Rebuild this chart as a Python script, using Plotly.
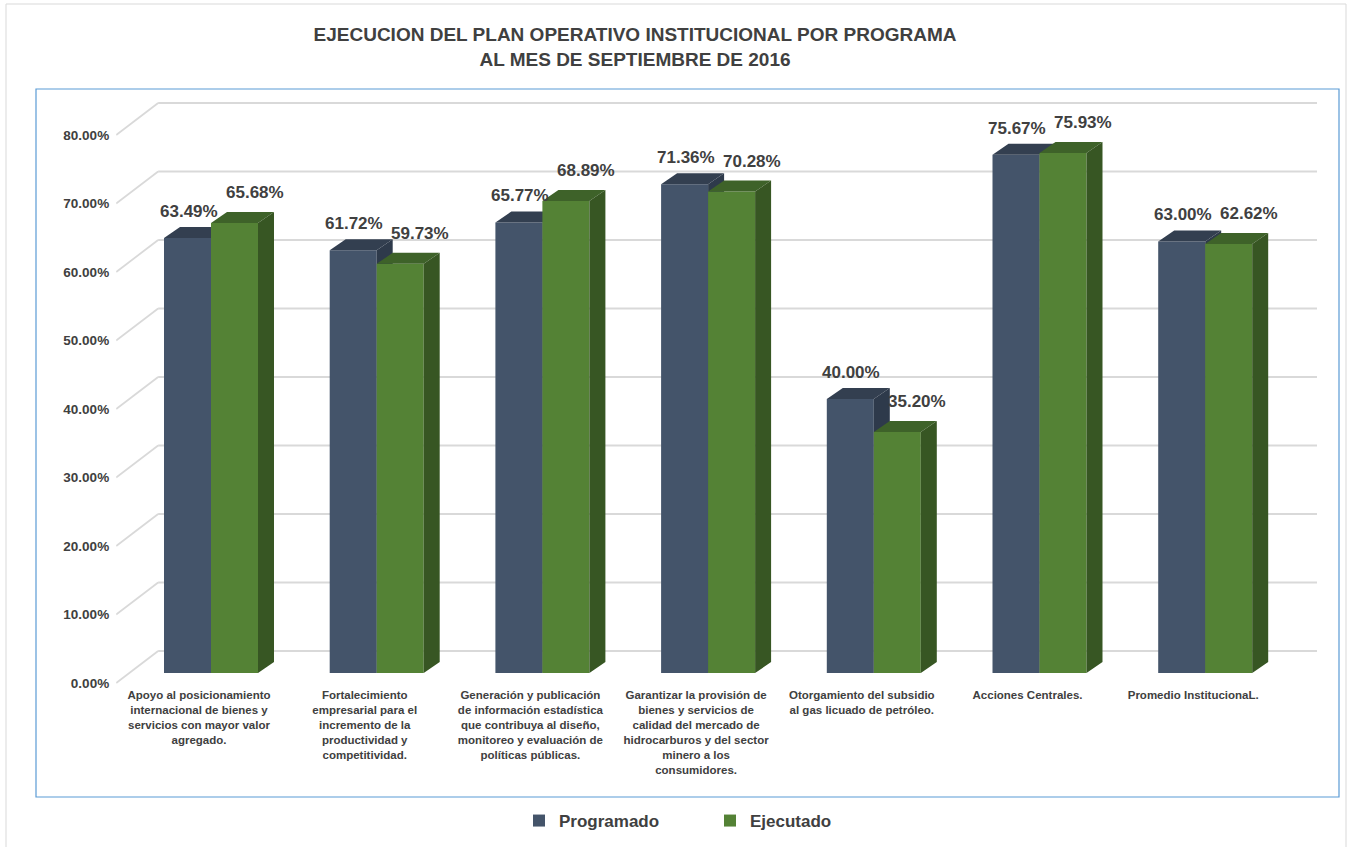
import plotly.graph_objects as go

W, H = 1349, 847

programas = [
    "Apoyo al posicionamiento<br>internacional de bienes y<br>servicios con mayor valor<br>agregado.",
    "Fortalecimiento<br>empresarial para el<br>incremento de la<br>productividad y<br>competitividad.",
    "Generación y publicación<br>de información estadística<br>que contribuya al diseño,<br>monitoreo y evaluación de<br>políticas públicas.",
    "Garantizar la provisión de<br>bienes y servicios de<br>calidad del mercado de<br>hidrocarburos y del sector<br>minero a los<br>consumidores.",
    "Otorgamiento del subsidio<br>al gas licuado de petróleo.",
    "Acciones Centrales.",
    "Promedio InstitucionaL.",
]
programado = [63.49, 61.72, 65.77, 71.36, 40.00, 75.67, 63.00]
ejecutado = [65.68, 59.73, 68.89, 70.28, 35.20, 75.93, 62.62]
ticks_y = [0, 10, 20, 30, 40, 50, 60, 70, 80]
ticks_txt = [f"{t:.2f}%" for t in ticks_y]

TXT = "#404040"
AZUL, AZUL_TOP, AZUL_LADO = "#44546A", "#333F50", "#2E3A4B"
VERDE, VERDE_TOP, VERDE_LADO = "#548235", "#3E6229", "#375623"

# escala en px
PX_CAT = 165.7      # px por categoria
PX_PCT = 6.85       # px por punto porcentual
BW = 47 / PX_CAT    # ancho de barra
DX = 16 / PX_CAT    # profundidad 3D
DY = 11 / PX_PCT
SHIFT = 12 / PX_CAT  # barras vs etiqueta


def px_x(p):
    return p / W


def px_y(p):
    return 1 - p / H


x_centro = [i + SHIFT for i in range(len(programas))]


def caras(x_der, vals, ancho):
    top_x, top_y, lado_x, lado_y = [], [], [], []
    for xr, v in zip(x_der, vals):
        xl = xr - ancho
        top_x += [xl, xr, xr + DX, xl + DX, xl, None]
        top_y += [v, v, v + DY, v + DY, v, None]
        lado_x += [xr, xr, xr + DX, xr + DX, xr, None]
        lado_y += [0, v, v + DY, DY, 0, None]
    return top_x, top_y, lado_x, lado_y


fig = go.Figure()

# eje de porcentajes del plano frontal (solo etiquetas)
fig.add_trace(go.Scatter(
    x=[0], y=[0], mode="markers", marker=dict(opacity=0), showlegend=False,
    hoverinfo="skip", xaxis="x", yaxis="y",
))

# Programado
fig.add_trace(go.Bar(
    x=x_centro, y=programado, width=BW, offset=-BW, name="Programado",
    marker=dict(color=AZUL, line=dict(width=0)), xaxis="x", yaxis="y2",
    zorder=0, hoverinfo="skip",
))
tx, ty, lx, ly = caras(x_centro, programado, BW)
for xs, ys, col in [(lx, ly, AZUL_LADO), (tx, ty, AZUL_TOP)]:
    fig.add_trace(go.Scatter(
        x=xs, y=ys, fill="toself", fillcolor=col, mode="lines",
        line=dict(width=0, color=col), showlegend=False, hoverinfo="skip",
        xaxis="x", yaxis="y2", zorder=1,
    ))

# Ejecutado
fig.add_trace(go.Bar(
    x=x_centro, y=ejecutado, width=BW, offset=0, name="Ejecutado",
    marker=dict(color=VERDE, line=dict(width=0)), xaxis="x", yaxis="y2",
    zorder=2, hoverinfo="skip",
))
x_der_v = [c + BW for c in x_centro]
tx, ty, lx, ly = caras(x_der_v, ejecutado, BW)
for xs, ys, col in [(tx, ty, VERDE_TOP), (lx, ly, VERDE_LADO)]:
    fig.add_trace(go.Scatter(
        x=xs, y=ys, fill="toself", fillcolor=col, mode="lines",
        line=dict(width=0, color=col), showlegend=False, hoverinfo="skip",
        xaxis="x", yaxis="y2", zorder=3,
    ))

# etiquetas de datos
anots = []
for c, v in zip(x_centro, programado):
    anots.append(dict(x=c - BW / 2, y=v, xref="x", yref="y2", text=f"{v:.2f}%",
                      showarrow=False, yanchor="bottom", xshift=1, yshift=15,
                      font=dict(size=17, color=TXT, family="Liberation Sans", weight="bold")))
for c, v in zip(x_centro, ejecutado):
    anots.append(dict(x=c + BW / 2, y=v, xref="x", yref="y2", text=f"{v:.2f}%",
                      showarrow=False, yanchor="bottom", xshift=20, yshift=19,
                      font=dict(size=17, color=TXT, family="Liberation Sans", weight="bold")))

# lineas de la pared del fondo (desplazadas por la perspectiva)
X_MAX = (1317 - 116.15) / PX_CAT - 0.5
X_PARED = -0.5 + 42 / PX_CAT
OFF_FONDO = 22 / PX_PCT
OFF_FRENTE = -10 / PX_PCT
shapes = []
for t in ticks_y:
    shapes.append(dict(type="line", xref="x", yref="y2", layer="below",
                       x0=X_PARED, x1=X_MAX, y0=t + OFF_FONDO, y1=t + OFF_FONDO,
                       line=dict(color="#D9D9D9", width=1.8)))
    shapes.append(dict(type="line", xref="x", yref="y2", layer="below",
                       x0=-0.5, x1=X_PARED, y0=t + OFF_FRENTE, y1=t + OFF_FONDO,
                       line=dict(color="#D9D9D9", width=1.8)))

# marcos
shapes.append(dict(type="rect", xref="paper", yref="paper",
                   x0=px_x(36), x1=px_x(1339), y0=px_y(797), y1=px_y(89),
                   line=dict(color="#5B9BD5", width=1.2), layer="below"))
shapes.append(dict(type="rect", xref="paper", yref="paper",
                   x0=px_x(6), x1=px_x(1346), y0=px_y(852), y1=px_y(4),
                   line=dict(color="#D9D9D9", width=1), layer="below"))

fig.update_layout(
    width=W, height=H,
    margin=dict(l=0, r=0, t=0, b=0, autoexpand=False),
    paper_bgcolor="white", plot_bgcolor="rgba(0,0,0,0)",
    barmode="overlay",
    font=dict(family="Liberation Sans, Arial, sans-serif", color=TXT),
    title=dict(
        text="EJECUCION DEL PLAN OPERATIVO INSTITUCIONAL POR PROGRAMA<br>AL MES DE SEPTIEMBRE DE 2016",
        x=px_x(635), xanchor="center", y=px_y(41), yanchor="top",
        xref="container", yref="container",
        font=dict(size=19, color=TXT, weight="bold"),
    ),
    xaxis=dict(
        domain=[px_x(116.15), px_x(1317)], range=[-0.5, X_MAX],
        anchor="y2", tickvals=list(range(len(programas))), ticktext=programas,
        showgrid=False, zeroline=False, showline=False, ticks="",
        tickfont=dict(size=11.5, color=TXT, weight="bold"), tickangle=0,
        automargin=False,
    ),
    yaxis=dict(
        domain=[px_y(683), px_y(683 - 90 * PX_PCT)], range=[0, 90], anchor="x",
        tickvals=ticks_y, ticktext=ticks_txt,
        showgrid=False, zeroline=False, showline=False, ticks="",
        ticklabelstandoff=6, automargin=False,
        tickfont=dict(size=13.5, color=TXT, weight="bold"),
    ),
    yaxis2=dict(
        domain=[px_y(673 + 2 * PX_PCT), px_y(673 - 90 * PX_PCT)], range=[-2, 90],
        anchor="x", visible=False, automargin=False,
    ),
    legend=dict(
        orientation="h", x=px_x(710), xanchor="center", y=px_y(821), yanchor="middle",
        bgcolor="rgba(0,0,0,0)",
        font=dict(size=17, color=TXT, weight="bold"),
        entrywidth=146, entrywidthmode="pixels",
    ),
    annotations=anots,
    shapes=shapes,
)

fig.write_html("out.html", config={"displayModeBar": False},
               post_script="document.body.style.margin='0';")
